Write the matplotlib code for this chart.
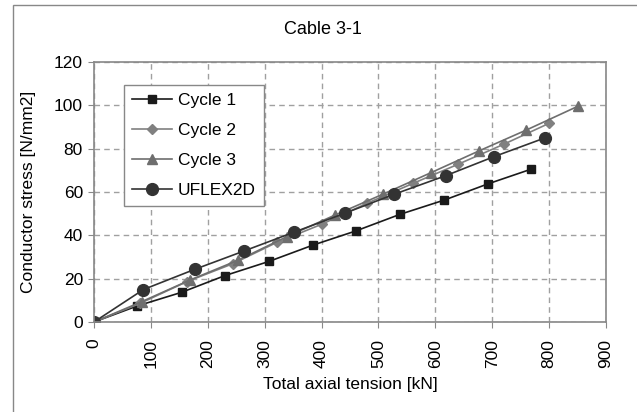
import matplotlib.pyplot as plt
from matplotlib.patches import Rectangle

plt.rcParams['font.family'] = ['Liberation Sans', 'DejaVu Sans']

# Cycle 1
c1_x = [0, 76, 154, 230, 308, 385, 460, 538, 616, 692, 768]
c1_y = [0, 7.4, 13.7, 21.4, 28.0, 35.5, 42.0, 49.7, 56.3, 63.7, 70.5]
# Cycle 2
c2_x = [0, 81, 163, 245, 321, 401, 480, 561, 640, 720, 800]
c2_y = [0, 8.6, 18.6, 27.0, 36.7, 45.2, 54.8, 64.0, 72.8, 82.0, 91.7]
# Cycle 3
c3_x = [0, 84, 169, 254, 339, 424, 508, 593, 677, 760, 850]
c3_y = [0, 9.4, 19.4, 28.6, 39.4, 49.4, 59.0, 69.0, 79.0, 88.6, 99.5]
# UFLEX2D
uf_x = [0, 87, 177, 264, 351, 441, 528, 618, 703, 793]
uf_y = [0, 15.0, 24.3, 32.8, 41.4, 50.2, 59.0, 67.5, 76.3, 85.0]

xticks = list(range(0, 901, 100))
yticks = list(range(0, 121, 20))

fig = plt.figure(figsize=(6.37, 4.12), dpi=100)
ax = fig.add_axes([94/637, 1 - 322/412, 512/637, 260/412])

ax.plot(c1_x, c1_y, color='#1a1a1a', lw=1.2, marker='s', ms=6, label='Cycle 1')
ax.plot(c2_x, c2_y, color='#808080', lw=1.2, marker='D', ms=5, label='Cycle 2')
ax.plot(c3_x, c3_y, color='#6e6e6e', lw=1.2, marker='^', ms=7.5, label='Cycle 3')
ax.plot(uf_x, uf_y, color='#333333', lw=1.2, marker='o', ms=8.5, label='UFLEX2D')

ax.set_xlim(0, 900)
ax.set_ylim(0, 120)
ax.set_xticks(xticks)
ax.set_yticks(yticks)
ax.tick_params(axis='x', labelrotation=90, labelsize=12.5, length=4, pad=8, color='#888888')
ax.tick_params(axis='y', labelsize=12.5, length=4, pad=4, color='#888888')
ax.grid(True, ls=(0, (4, 3)), color='#a0a0a0', lw=1)
for s in ax.spines.values():
    s.set_color('#888888')
    s.set_linewidth(1.2)

ax.set_xlabel('Total axial tension [kN]', fontsize=12.5, va='center')
ax.xaxis.set_label_coords(0.5, (322 - 385) / 260)
ax.set_ylabel('Conductor stress [N/mm2]', fontsize=12.5, va='center')
ax.yaxis.set_label_coords((29 - 94) / 512, 0.5)
fig.text(323/637, 1 - 30/412, 'Cable 3-1', ha='center', va='center', fontsize=13)

leg = ax.legend(loc='upper left', bbox_to_anchor=((124 - 94) / 512, (322 - 85) / 260),
                borderaxespad=0, fontsize=12.5, fancybox=False, framealpha=1,
                edgecolor='#888888', borderpad=0.45, handlelength=2.3,
                handletextpad=0.35, labelspacing=0.85)
leg.get_frame().set_linewidth(1.0)

fig.patches.append(Rectangle((13/637, -0.1), 1, 1 - 5/412 + 0.1, transform=fig.transFigure,
                             fill=False, edgecolor='#888888', lw=1))

fig.savefig('out.png', dpi=100)
